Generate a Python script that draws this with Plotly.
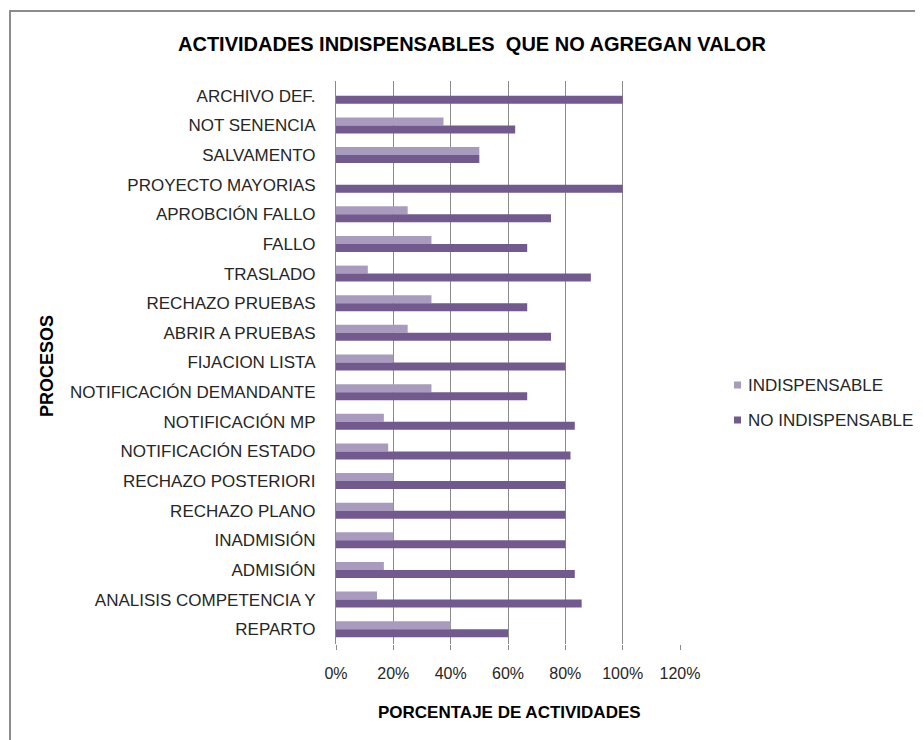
import plotly.graph_objects as go

categories = [
    "ARCHIVO DEF.", "NOT SENENCIA", "SALVAMENTO", "PROYECTO MAYORIAS",
    "APROBCIÓN FALLO", "FALLO", "TRASLADO", "RECHAZO PRUEBAS",
    "ABRIR A PRUEBAS", "FIJACION LISTA", "NOTIFICACIÓN DEMANDANTE",
    "NOTIFICACIÓN MP", "NOTIFICACIÓN ESTADO", "RECHAZO POSTERIORI",
    "RECHAZO PLANO", "INADMISIÓN", "ADMISIÓN", "ANALISIS COMPETENCIA Y",
    "REPARTO",
]
indispensable = [0.0, 0.375, 0.5, 0.0, 0.25, 0.333, 0.111, 0.333, 0.25, 0.2,
                 0.333, 0.167, 0.182, 0.2, 0.2, 0.2, 0.167, 0.143, 0.4]
no_indispensable = [1.0, 0.625, 0.5, 1.0, 0.75, 0.667, 0.889, 0.667, 0.75, 0.8,
                    0.667, 0.833, 0.818, 0.8, 0.8, 0.8, 0.833, 0.857, 0.6]
x_ticks = [0, 0.2, 0.4, 0.6, 0.8, 1.0, 1.2]
x_tick_labels = ["0%", "20%", "40%", "60%", "80%", "100%", "120%"]
series_names = ["INDISPENSABLE", "NO INDISPENSABLE"]
colors = ["#A89BBE", "#725A8F"]

FONT = "Liberation Sans, Arial, sans-serif"
OFF = 8  # page body margin
W, H = 923 - OFF, 740 - OFF
# plot area in page pixels
L, R, T, B = 336, 680, 81, 644


def px_x(p):
    return (p - L) / (R - L)


def px_y(p):
    return (B - p) / (B - T)


fig = go.Figure()
for name, vals, col in zip(series_names, [indispensable, no_indispensable], colors):
    fig.add_trace(go.Bar(
        y=categories, x=vals, name=name, orientation="h",
        marker=dict(color=col, line=dict(width=0)), showlegend=False,
    ))

shapes = [
    dict(type="line", xref="paper", yref="paper", x0=px_x(10), x1=px_x(10),
         y0=px_y(760), y1=px_y(11), line=dict(color="#8C8C8C", width=2)),
    dict(type="line", xref="paper", yref="paper", x0=px_x(9), x1=px_x(940),
         y0=px_y(11), y1=px_y(11), line=dict(color="#8C8C8C", width=2)),
]
annotations = [
    dict(text="<b>ACTIVIDADES INDISPENSABLES  QUE NO AGREGAN VALOR</b>",
         xref="paper", yref="paper", x=px_x(472), y=px_y(44),
         xanchor="center", yanchor="middle", showarrow=False,
         font=dict(family=FONT, size=20, color="#000000")),
    dict(text="<b>PORCENTAJE DE ACTIVIDADES</b>",
         xref="paper", yref="paper", x=px_x(509), y=px_y(712),
         xanchor="center", yanchor="middle", showarrow=False,
         font=dict(family=FONT, size=17, color="#000000")),
    dict(text="<b>PROCESOS</b>", textangle=-90,
         xref="paper", yref="paper", x=px_x(47), y=px_y(366),
         xanchor="center", yanchor="middle", showarrow=False,
         font=dict(family=FONT, size=18, color="#000000")),
]
legend_y = [385, 420]
for name, col, ly in zip(series_names, colors, legend_y):
    shapes.append(dict(type="rect", xref="paper", yref="paper",
                       x0=px_x(734), x1=px_x(741), y0=px_y(ly + 3.5), y1=px_y(ly - 3.5),
                       fillcolor=col, line=dict(width=0)))
    annotations.append(dict(text=name, xref="paper", yref="paper",
                            x=px_x(746), y=px_y(ly), xanchor="left", yanchor="middle",
                            showarrow=False,
                            font=dict(family=FONT, size=17, color="#262626")))

fig.update_layout(
    width=W, height=H,
    margin=dict(l=L - OFF, r=W - (R - OFF), t=T - OFF, b=H - (B - OFF), pad=0),
    paper_bgcolor="white", plot_bgcolor="white",
    barmode="group", bargap=0.46, bargroupgap=0,
    font=dict(family=FONT, size=16, color="#262626"),
    shapes=shapes, annotations=annotations,
    xaxis=dict(
        range=[0, 1.2], tickvals=x_ticks, ticktext=x_tick_labels,
        showgrid=True, gridcolor="#8A8A8A", gridwidth=1,
        zeroline=False, showline=False,
        ticks="outside", ticklen=5, tickcolor="#8A8A8A",
        ticklabelstandoff=10,
        tickfont=dict(family=FONT, size=16, color="#262626"),
    ),
    yaxis=dict(
        autorange="reversed", type="category",
        showgrid=False, zeroline=False,
        showline=True, linecolor="#8A8A8A", linewidth=1,
        ticks="", ticklabelstandoff=16,
        tickfont=dict(family=FONT, size=17, color="#262626"),
    ),
)

fig.write_html("out.html")
